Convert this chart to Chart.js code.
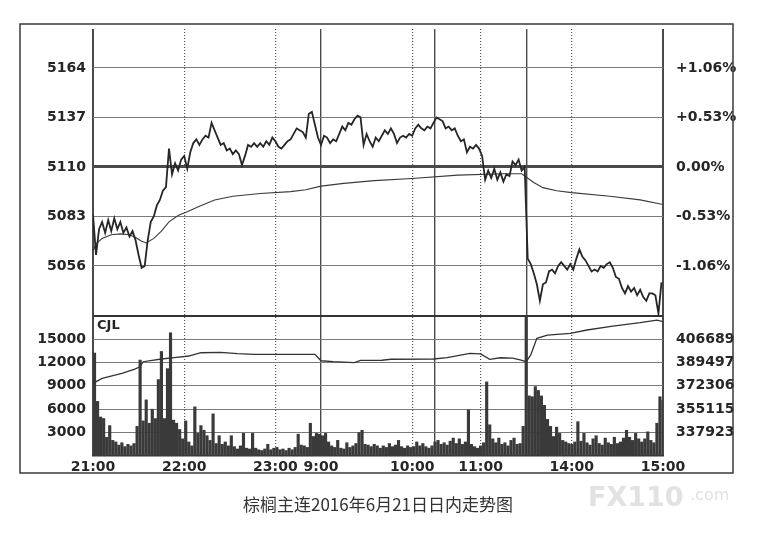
<!DOCTYPE html>
<html>
<head>
<meta charset="utf-8">
<script src="https://cdn.jsdelivr.net/npm/chart.js@4.4.0/dist/chart.umd.min.js"></script>
<style>
  html, body { margin: 0; padding: 0; background: #fff; }
  #wrap { width: 771px; height: 538px; position: relative; }
</style>
</head>
<body>
<div id="wrap"><canvas id="chart"></canvas></div>
<script>
'use strict';

// minutes since 21:00, trading time only (night 21:00-23:30, day 9:00-10:15, 10:30-11:30, 13:30-15:00)
const timeTicks = [0, 60, 120, 150, 210, 255, 315, 375];
const timeLabels = ['21:00', '22:00', '23:00', '9:00', '10:00', '11:00', '14:00', '15:00'];
const sessionBreaks = [0, 150, 225, 285, 375];
const hourLines = [60, 120, 210, 255, 315];

const priceTicks = [5056, 5083, 5110, 5137, 5164];
const pctLabels = ['-1.06%', '-0.53%', '0.00%', '+0.53%', '+1.06%'];
const volTicks = [3000, 6000, 9000, 12000, 15000];
const oiTicks = [337923, 355115, 372306, 389497, 406689];

// last price, one value every 2 minutes
const price = [
  5084, 5062, 5076, 5080, 5074, 5081, 5075, 5082, 5076, 5080,
  5074, 5077, 5072, 5075, 5070, 5062, 5055, 5056, 5070, 5080,
  5083, 5089, 5092, 5097, 5099, 5120, 5106, 5112, 5108, 5114,
  5116, 5109, 5118, 5123, 5125, 5122, 5125, 5127, 5126, 5134,
  5130, 5126, 5122, 5123, 5119, 5120, 5117, 5119, 5117, 5111,
  5116, 5122, 5121, 5123, 5121, 5123, 5121, 5124, 5122, 5126,
  5124, 5121, 5120, 5122, 5124, 5125, 5128, 5131, 5130, 5129,
  5126, 5139, 5140, 5133, 5126, 5122, 5127, 5126, 5123, 5125,
  5124, 5128, 5132, 5130, 5134, 5133, 5136, 5138, 5137, 5122,
  5128, 5124, 5121, 5126, 5124, 5127, 5130, 5128, 5131, 5128,
  5123, 5126, 5127, 5126, 5128, 5127, 5131, 5133, 5131, 5130,
  5132, 5131, 5134, 5137, 5136, 5135, 5131, 5132, 5130, 5131,
  5127, 5124, 5125, 5118, 5121, 5120, 5122, 5120, 5116, 5103,
  5108, 5104, 5109, 5103, 5107, 5102, 5106, 5105, 5113, 5111,
  5114, 5108, 5110, 5060, 5057, 5052, 5046, 5037, 5046, 5047,
  5053, 5054, 5052, 5056, 5058, 5056, 5054, 5057, 5054, 5060,
  5065, 5061, 5059, 5056, 5053, 5054, 5053, 5056, 5055, 5057,
  5058, 5055, 5050, 5049, 5044, 5041, 5045, 5042, 5044, 5040,
  5043, 5039, 5037, 5041, 5041, 5040, 5030, 5047
];

// average price line
const avgMinutes = [0, 2, 6, 12, 18, 24, 28, 32, 35, 40, 45, 50, 56, 62, 70, 80, 92, 110, 130, 140,
  150, 165, 185, 210, 240, 270, 282, 290, 296, 305, 315, 340, 360, 375];
const avgPrice = [5064, 5068, 5071, 5073, 5073.5, 5073, 5071.5, 5069.5, 5068.5, 5071,
  5075, 5080, 5083.5, 5085.5, 5088.5, 5092, 5094, 5095.5, 5096.5, 5097.5,
  5099.5, 5101, 5102.5, 5103.7, 5105.5, 5106.3, 5106.3, 5101.5, 5098.7, 5097,
  5096, 5094, 5092, 5089.5];

// volume (CJL), 2-minute bins
const volume = [
  13200, 7000, 5000, 4800, 2400, 3900, 2000, 1800, 1400, 1700,
  1200, 1500, 1300, 1600, 3800, 12300, 4500, 7200, 4200, 6000,
  4800, 9800, 13400, 4800, 11200, 15800, 4600, 4200, 3400, 2200,
  4500, 1800, 1300, 6300, 2900, 3900, 3300, 2600, 2000, 5400,
  1600, 2600, 1500, 1800, 1300, 2600, 1200, 900, 1300, 2900,
  1000, 900, 2900, 1000, 800, 700, 900, 1500, 800, 1000,
  1100, 800, 900, 700, 1000, 800, 1100, 2800, 1400, 1300,
  1100, 4200, 2500, 2900, 2800, 2600, 2900, 1800, 1300, 1100,
  2000, 1000, 900, 1700, 1100, 1300, 1600, 3000, 3300, 1500,
  1400, 1200, 1500, 1300, 1000, 1300, 1100, 1600, 1200, 1400,
  2000, 1200, 1000, 1300, 1100, 1200, 1800, 1300, 1600, 1200,
  1000, 1300, 1800, 2000, 1500, 1700, 1400, 1900, 2300, 1600,
  2200, 1500, 1800, 5900, 1500, 1200, 1000, 1300, 1700, 9500,
  4000, 2200, 1700, 2300, 1500, 1700, 1300, 2000, 2300, 1500,
  1600, 3800, 17900, 7700, 7600, 8900, 8400, 7700, 6500, 4700,
  3800, 2500, 3700, 2900, 2000, 1800, 1600, 1500, 1800, 4400,
  1900, 2900, 1700, 1400, 2200, 2600, 1600, 1400, 2300, 1700,
  1500, 2400, 1600, 1800, 2300, 3300, 2400, 2000, 2900, 2200,
  1800, 2200, 3100, 2000, 1700, 4200, 7600, 7100
];

// open interest
const oiMinutes = [0, 6, 19, 27, 31, 33, 45, 55, 63, 71, 84, 95, 106, 146, 150, 158, 172, 176, 190, 196,
  224, 233, 248, 255, 261, 268, 276, 281, 285, 288, 292, 299, 314, 325, 342, 360, 371, 375];
const openInterest = [374100, 377800, 381500, 384400, 386300, 390000, 392000, 393200, 394200, 396600,
  396900, 395900, 395400, 395400, 390700, 390000, 389300, 391000, 391100, 391800,
  392000, 393000, 396200, 395700, 391800, 392900, 392700, 391300, 390000, 395000,
  407200, 409600, 410900, 413300, 416200, 418700, 420600, 419500];

const priceMin = 5028.7, priceMax = 5185.2;
const volMax = 17950;
const oiStep = (oiTicks[4] - oiTicks[0]) / 4;
const oiMin = oiTicks[0] - oiStep;
const oiMax = oiMin + oiStep * volMax / volTicks[0];

const labelFont = { family: 'DejaVu Sans', size: 14, weight: 'bold' };
const textColor = '#262626';

const decor = {
  id: 'decor',
  afterDraw(chart) {
    const ctx = chart.ctx;
    const vol = chart.scales.yVol;
    ctx.save();
    ctx.strokeStyle = '#3a3a3a';
    ctx.lineWidth = 1.5;
    ctx.strokeRect(20, 24, 713, 449);

    ctx.fillStyle = textColor;
    ctx.font = 'bold 13px "DejaVu Sans"';
    ctx.textAlign = 'left';
    ctx.textBaseline = 'middle';
    ctx.fillText('CJL', chart.chartArea.left + 4, vol.top + 10);

    ctx.fillStyle = '#e2e2e2';
    ctx.font = 'bold 27px "DejaVu Sans"';
    ctx.textBaseline = 'alphabetic';
    ctx.fillText('FX110', 588, 506);
    ctx.font = '16px "DejaVu Sans"';
    ctx.fillText('.com', 690, 500);

    ctx.fillStyle = '#333';
    ctx.font = '17px "Noto Sans CJK SC"';
    ctx.textAlign = 'center';
    ctx.textBaseline = 'middle';
    ctx.fillText('棕榈主连2016年6月21日日内走势图', 378, 505);
    ctx.restore();
  }
};

const allXTicks = timeTicks.concat([225, 285]).sort((a, b) => a - b);

new Chart(document.getElementById('chart'), {
  type: 'line',
  data: {
    datasets: [
      {
        label: 'price',
        data: price.map((v, i) => ({ x: i * 2, y: v })),
        yAxisID: 'yPrice',
        borderColor: '#262626',
        borderWidth: 1.8,
        pointRadius: 0,
        tension: 0
      },
      {
        label: 'avg',
        data: avgMinutes.map((m, i) => ({ x: m, y: avgPrice[i] })),
        yAxisID: 'yPrice',
        borderColor: '#3a3a3a',
        borderWidth: 1.1,
        pointRadius: 0
      },
      {
        label: 'oi',
        data: oiMinutes.map((m, i) => ({ x: m, y: openInterest[i] })),
        yAxisID: 'yOI',
        borderColor: '#333',
        borderWidth: 1.3,
        pointRadius: 0
      },
      {
        type: 'bar',
        label: 'CJL',
        data: volume.map((v, i) => ({ x: i * 2 + 1, y: v })),
        yAxisID: 'yVol',
        backgroundColor: '#3a3a3a',
        barThickness: 2.5
      }
    ]
  },
  options: {
    responsive: true,
    maintainAspectRatio: false,
    animation: false,
    devicePixelRatio: 1,
    layout: { padding: { left: 0, right: 0, top: 29, bottom: 0 } },
    plugins: { legend: { display: false }, tooltip: { enabled: false } },
    scales: {
      x: {
        type: 'linear', position: 'bottom', min: 0, max: 375, offset: false,
        afterBuildTicks: s => { s.ticks = allXTicks.map(v => ({ value: v })); },
        afterFit: s => { s.height = 82; },
        ticks: {
          autoSkip: false, maxRotation: 0, padding: 3, color: textColor, font: labelFont,
          callback: v => { const i = timeTicks.indexOf(v); return i < 0 ? '' : timeLabels[i]; }
        },
        grid: {
          offset: false, drawTicks: false,
          color: c => sessionBreaks.includes(c.tick.value) ? '#4a4a4a' : 'rgba(0,0,0,0)',
          lineWidth: c => (c.tick.value === 0 || c.tick.value === 375) ? 2 : 1.4
        },
        border: { display: true, color: '#333', width: 1.5 }
      },
      x2: {
        type: 'linear', position: 'top', min: 0, max: 375, offset: false,
        afterBuildTicks: s => { s.ticks = hourLines.map(v => ({ value: v })); },
        afterFit: s => { s.height = 0; },
        ticks: { display: false },
        grid: { drawTicks: false, color: '#555', lineWidth: 1.2 },
        border: { display: false, dash: [1, 2] }
      },
      yVol: {
        type: 'linear', position: 'left', stack: 'L', stackWeight: 140,
        min: 0, max: volMax,
        afterBuildTicks: s => { s.ticks = volTicks.concat([volMax]).map(v => ({ value: v })); },
        afterFit: s => { s.width = 93; },
        ticks: {
          autoSkip: false, padding: 7, color: textColor, font: labelFont,
          callback: v => v === volMax ? '' : String(v)
        },
        grid: {
          drawTicks: false,
          color: c => c.tick.value === volMax ? '#333' : '#7a7a7a',
          lineWidth: c => c.tick.value === volMax ? 2 : 1
        },
        border: { display: false }
      },
      yPrice: {
        type: 'linear', position: 'left', stack: 'L', stackWeight: 287,
        min: priceMin, max: priceMax,
        afterBuildTicks: s => { s.ticks = priceTicks.map(v => ({ value: v })); },
        afterFit: s => { s.width = 93; },
        ticks: {
          autoSkip: false, padding: 7, color: textColor, font: labelFont,
          callback: v => String(v)
        },
        grid: {
          drawTicks: false,
          color: c => c.tick.value === 5110 ? '#4a4a4a' : '#7a7a7a',
          lineWidth: c => c.tick.value === 5110 ? 3 : 1
        },
        border: { display: false }
      },
      yPct: {
        type: 'linear', position: 'right', stack: 'R', stackWeight: 287,
        min: priceMin, max: priceMax,
        afterBuildTicks: s => { s.ticks = priceTicks.map(v => ({ value: v })); },
        afterFit: s => { s.width = 108; },
        ticks: {
          autoSkip: false, padding: 5, color: textColor, font: labelFont,
          callback: v => pctLabels[priceTicks.indexOf(v)]
        },
        grid: { display: false },
        border: { display: false }
      },
      yOI: {
        type: 'linear', position: 'right', stack: 'R', stackWeight: 140,
        min: oiMin, max: oiMax,
        afterBuildTicks: s => { s.ticks = oiTicks.map(v => ({ value: v })); },
        afterFit: s => { s.width = 108; },
        ticks: {
          autoSkip: false, padding: 5, color: textColor, font: labelFont,
          callback: v => String(v)
        },
        grid: { display: false },
        border: { display: false }
      }
    }
  },
  plugins: [decor]
});
</script>
</body>
</html>
